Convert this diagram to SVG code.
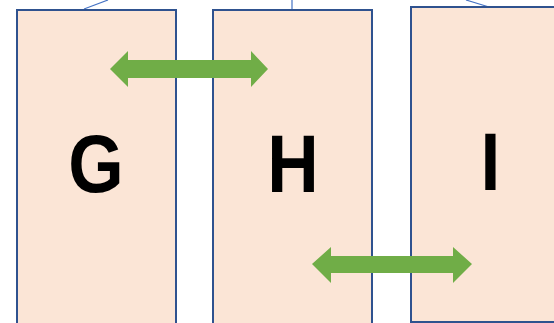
<svg xmlns="http://www.w3.org/2000/svg" width="554" height="323" viewBox="0 0 554 323">
<style>
.box{fill:#FBE5D6;stroke:#2F528F;stroke-width:2}
.lbl{font-family:"Liberation Sans",Arial,sans-serif;font-weight:bold;font-size:81px;fill:#000;text-anchor:middle}
.conn{stroke:#4472C4;stroke-width:1.2;fill:none}
.dbl{fill:#70AD47}
</style>
<rect width="554" height="323" fill="#fff"/>
<g id="connectors">
<line class="conn" x1="84" y1="9" x2="108" y2="0"/>
<line class="conn" x1="292" y1="10" x2="292" y2="0"/>
<line class="conn" x1="466" y1="0" x2="489" y2="7"/>
</g>
<g id="node-G">
<rect class="box" x="17" y="10" width="159" height="320"/>
<text class="lbl" transform="translate(96,192) scale(0.88,1)">G</text>
</g>
<g id="node-H">
<rect class="box" x="213" y="10" width="159" height="320"/>
<text class="lbl" transform="translate(293,192) scale(0.88,1)">H</text>
</g>
<g id="node-I">
<rect class="box" x="411" y="7" width="160" height="315"/>
<text class="lbl" transform="translate(490.5,190) scale(0.88,1)">I</text>
</g>
<g id="arrows">
<polygon class="dbl" points="110,69 128,51 128,60 251,60 251,51 268,69 251,87 251,78 128,78 128,87"/>
<polygon class="dbl" points="312,264 331,247 331,256 453,256 453,247 472,264 453,283 453,273 331,273 331,283"/>
</g>
</svg>
